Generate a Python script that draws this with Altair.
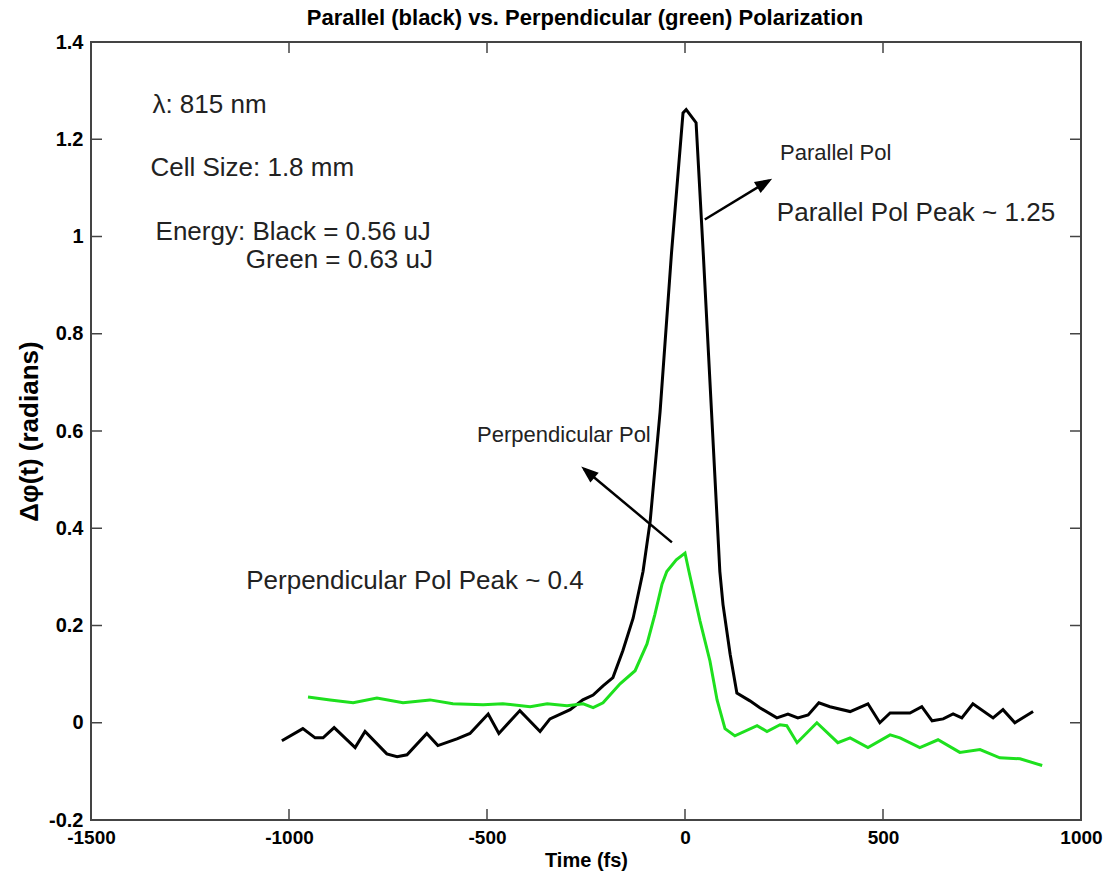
import altair as alt
import pandas as pd

# ---- data ----
black_t = [-1018, -965, -934, -914, -886, -833, -808, -753, -727, -702, -652, -624, -576, -543,
           -497, -470, -417, -366, -341, -290, -258, -232, -207, -182, -157, -131, -106, -88,
           -63, -34, -5, 3, 28, 46, 67, 88, 96, 114, 131, 164, 189, 232, 260, 285, 311, 338,
           366, 417, 462, 492, 518, 568, 598, 624, 652, 677, 699, 727, 778, 803, 833, 879]
black_v = [-0.037, -0.012, -0.031, -0.031, -0.010, -0.051, -0.018, -0.064, -0.070, -0.066,
           -0.022, -0.047, -0.033, -0.022, 0.018, -0.022, 0.025, -0.018, 0.008, 0.027, 0.047,
           0.057, 0.076, 0.093, 0.148, 0.215, 0.311, 0.414, 0.639, 0.967, 1.254, 1.261, 1.234,
           0.967, 0.639, 0.311, 0.243, 0.141, 0.061, 0.045, 0.031, 0.010, 0.018, 0.010, 0.016,
           0.041, 0.033, 0.023, 0.039, 0.0, 0.020, 0.020, 0.033, 0.004, 0.008, 0.018, 0.010,
           0.039, 0.010, 0.027, 0.0, 0.023]

green_t = [-952, -896, -838, -778, -712, -644, -586, -510, -460, -391, -348, -298, -257, -232,
           -207, -164, -126, -96, -76, -58, -46, -22, 0, 10, 38, 63, 81, 101, 126, 182, 207,
           240, 257, 283, 333, 386, 417, 462, 518, 543, 593, 639, 694, 745, 795, 846, 902]
green_v = [0.053, 0.047, 0.041, 0.051, 0.041, 0.047, 0.039, 0.037, 0.039, 0.033, 0.039, 0.035,
           0.039, 0.031, 0.041, 0.080, 0.107, 0.162, 0.223, 0.285, 0.311, 0.335, 0.349, 0.311,
           0.209, 0.127, 0.047, -0.012, -0.027, -0.006, -0.018, -0.004, -0.006, -0.041, 0.0,
           -0.041, -0.031, -0.051, -0.025, -0.031, -0.051, -0.035, -0.061, -0.055, -0.072,
           -0.074, -0.088]

x_tick_values = [-1500, -1000, -500, 0, 500, 1000]
y_tick_values = [-0.2, 0, 0.2, 0.4, 0.6, 0.8, 1, 1.2, 1.4]
inner_x_ticks = [-1000, -500, 0, 500]
inner_y_ticks = [0, 0.2, 0.4, 0.6, 0.8, 1, 1.2]

note_text = ["λ: 815 nm", "Cell Size: 1.8 mm", "Energy: Black = 0.56 uJ", "Green = 0.63 uJ",
             "Parallel Pol Peak ~ 1.25", "Perpendicular Pol Peak ~ 0.4"]
note_t = [-1345, -1350, -1337, -1109, 232, -1108]
note_v = [1.271, 1.141, 1.010, 0.951, 1.049, 0.291]

small_text = ["Parallel Pol", "Perpendicular Pol"]
small_t = [240, -525]
small_v = [1.172, 0.592]

arrow_id = ["par", "par", "perp", "perp"]
arrow_t = [50, 212, -33, -255]
arrow_v = [1.035, 1.115, 0.371, 0.522]
head_t = [220, -262]
head_v = [1.119, 0.527]
head_angle = [59, 310]

TITLE = "Parallel (black) vs. Perpendicular (green) Polarization"
FONT = "Liberation Sans, Arial, Helvetica, sans-serif"
W, H = 990, 778

# ---- tables ----
lines = pd.DataFrame({
    "t": black_t + green_t,
    "v": black_v + green_v,
    "series": ["Parallel"] * len(black_t) + ["Perpendicular"] * len(green_t),
})
notes = pd.DataFrame({"t": note_t, "v": note_v, "label": note_text})
smalls = pd.DataFrame({"t": small_t, "v": small_v, "label": small_text})
arrows = pd.DataFrame({"t": arrow_t, "v": arrow_v, "id": arrow_id})
heads = pd.DataFrame({"t": head_t, "v": head_v, "a": head_angle})
xt = pd.DataFrame({"t": inner_x_ticks})
yt = pd.DataFrame({"v": inner_y_ticks})
title_df = pd.DataFrame({"label": [TITLE]})

xscale = alt.Scale(domain=[-1500, 1000], nice=False, zero=False)
yscale = alt.Scale(domain=[-0.2, 1.4], nice=False, zero=False)

xaxis = alt.Axis(values=x_tick_values, ticks=False, domain=False, grid=False,
                 labelExpr="'' + datum.value", labelFont=FONT, labelFontSize=19,
                 labelFontWeight="bold", labelColor="black", labelPadding=8,
                 labelFlush=False, title="Time (fs)", titleFont=FONT, titleFontSize=20,
                 titleFontWeight="bold", titleColor="black", titlePadding=3)
yaxis = alt.Axis(values=y_tick_values, ticks=False, domain=False, grid=False,
                 labelExpr="'' + datum.value", labelFont=FONT, labelFontSize=20,
                 labelFontWeight="bold", labelColor="black", labelPadding=8,
                 labelFlush=False, title="Δφ(t) (radians)", titleFont=FONT,
                 titleFontSize=26, titleFontWeight="bold", titleColor="black",
                 titlePadding=6)


def X(field="t"):
    return alt.X(f"{field}:Q", scale=xscale, axis=xaxis)


def Y(field="v"):
    return alt.Y(f"{field}:Q", scale=yscale, axis=yaxis)


data_lines = alt.Chart(lines).mark_line(strokeWidth=3).encode(
    x=X(), y=Y(),
    color=alt.Color("series:N", scale=alt.Scale(domain=["Parallel", "Perpendicular"],
                                                 range=["#000000", "#1ee01e"]), legend=None),
    detail="series:N",
)

tick_style = dict(color="#444444", strokeWidth=1.5)
ticks_bottom = alt.Chart(xt).mark_rule(**tick_style).encode(
    x=X(), y=alt.value(H), y2=alt.value(H - 11))
ticks_top = alt.Chart(xt).mark_rule(**tick_style).encode(
    x=X(), y=alt.value(0), y2=alt.value(11))
ticks_left = alt.Chart(yt).mark_rule(**tick_style).encode(
    y=Y(), x=alt.value(0), x2=alt.value(11))
ticks_right = alt.Chart(yt).mark_rule(**tick_style).encode(
    y=Y(), x=alt.value(W), x2=alt.value(W - 11))

note_layer = alt.Chart(notes).mark_text(
    align="left", baseline="middle", font=FONT, fontSize=26, color="#222222"
).encode(x=X(), y=Y(), text="label:N")

small_layer = alt.Chart(smalls).mark_text(
    align="left", baseline="middle", font=FONT, fontSize=22, color="#222222"
).encode(x=X(), y=Y(), text="label:N")

arrow_lines = alt.Chart(arrows).mark_line(color="black", strokeWidth=2.5).encode(
    x=X(), y=Y(), detail="id:N")

arrow_heads = alt.Chart(heads).mark_point(
    shape="M0,0 L0.75,2 L-0.75,2 Z", filled=True, color="black", opacity=1, size=300
).encode(x=X(), y=Y(), angle=alt.Angle("a:Q", scale=None))

title_layer = alt.Chart(title_df).mark_text(
    align="center", baseline="middle", font=FONT, fontSize=22, fontWeight="bold",
    color="black"
).encode(x=alt.value(W / 2 - 1), y=alt.value(-24), text="label:N")

chart = alt.layer(
    ticks_bottom, ticks_top, ticks_left, ticks_right,
    data_lines, arrow_lines, arrow_heads, note_layer, small_layer, title_layer,
).properties(
    width=W, height=H,
    autosize=alt.AutoSizeParams(type="none"),
    padding={"left": 91, "top": 42, "right": 35, "bottom": 58},
).configure(
    background="white",
    view=alt.ViewConfig(stroke="#444444", strokeWidth=2),
)

chart.save("out.html", embed_options={"renderer": "svg", "actions": False})
